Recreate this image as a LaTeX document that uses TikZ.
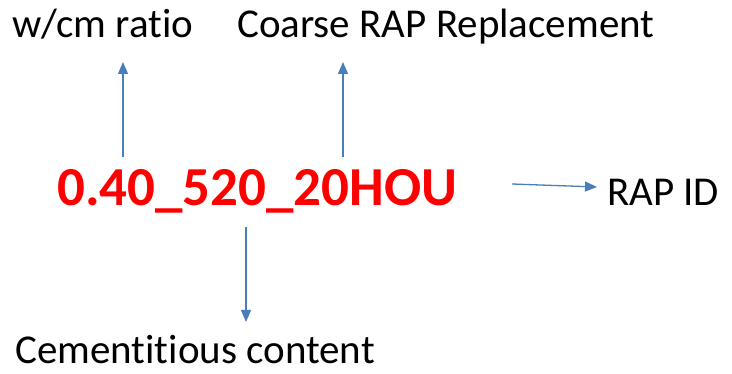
\documentclass[tikz,border=0pt]{standalone}
\usepackage{fontspec}
\setmainfont[RawFeature={-liga;-clig;-dlig}]{Carlito}
\usetikzlibrary{arrows.meta}
\definecolor{arrowblue}{HTML}{4A7EBB}
\definecolor{idred}{HTML}{FF0000}
\tikzset{
  lbl/.style={anchor=base west, inner sep=0pt, font=\fontsize{41}{45}\selectfont},
  idtext/.style={anchor=base west, inner sep=0pt, text=idred, font=\fontsize{55}{60}\selectfont\bfseries},
  pointer/.style={draw=arrowblue, line width=1.3pt, -{Triangle[length=12pt,width=10pt]}}
}
\begin{document}
\begin{tikzpicture}[x=1pt,y=-1pt]
\useasboundingbox (0,0) rectangle (732,374);
\node[lbl] (wcm) at (12,38) {w/cm ratio};
\node[lbl] (coarse) at (237,38) {Coarse RAP Replacement};
\node[idtext] (id) at (57,206) {0.40\_520\_20HOU};
\node[lbl] (rapid) at (607,206) {RAP ID};
\node[lbl] (cem) at (15,364) {Cementitious content};
\coordinate (a1s) at (123,157); \coordinate (a1e) at (123,62);
\coordinate (a2s) at (343,157); \coordinate (a2e) at (343,62);
\coordinate (a3s) at (512,184); \coordinate (a3e) at (597,187);
\coordinate (a4s) at (246,227); \coordinate (a4e) at (246,322);
\draw[pointer] (a1s) -- (a1e);
\draw[pointer] (a2s) -- (a2e);
\draw[pointer] (a3s) -- (a3e);
\draw[pointer] (a4s) -- (a4e);
\end{tikzpicture}
\end{document}
